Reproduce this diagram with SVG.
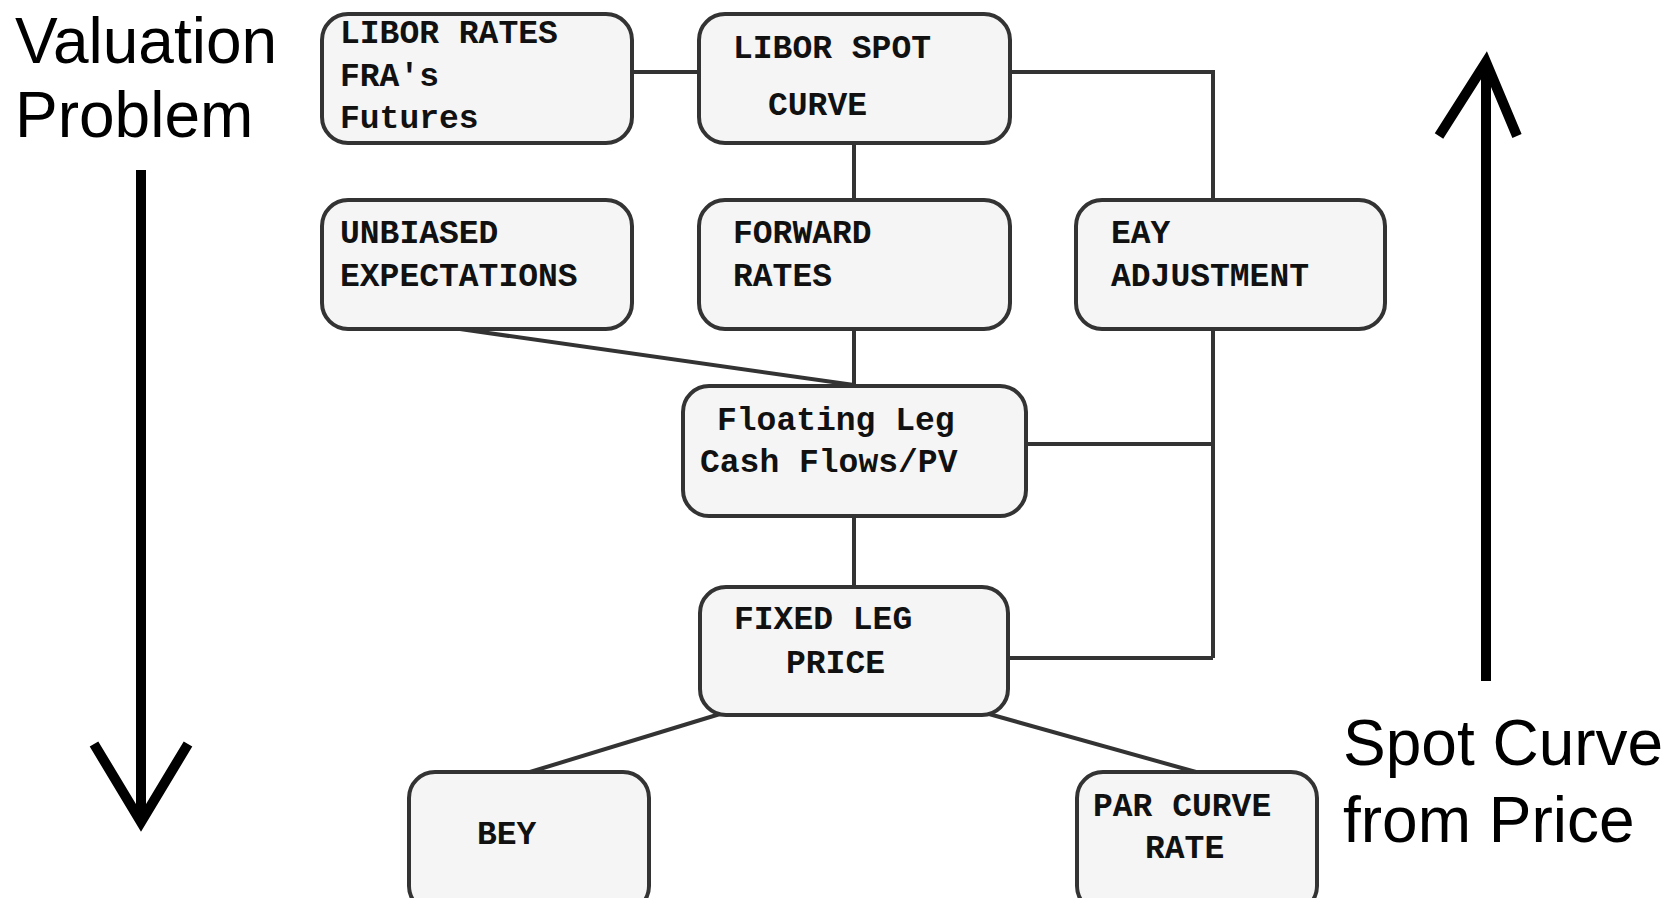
<svg xmlns="http://www.w3.org/2000/svg" width="1665" height="898" viewBox="0 0 1665 898">
<style>
.box{fill:#f5f5f5;stroke:#333;stroke-width:4}
.lbl{font-family:"Liberation Mono","Courier New",monospace;font-weight:bold;font-size:33px;fill:#111}
.big{font-family:"Liberation Sans",Arial,sans-serif;font-size:64px;fill:#000}
.con{fill:none;stroke:#333;stroke-width:4}
.arr{fill:none;stroke:#000;stroke-width:10}
</style>
<rect width="1665" height="898" fill="#fff"/>
<g id="connectors">
<line class="con" x1="632" y1="72" x2="698" y2="72"/>
<polyline class="con" points="1010,72 1213,72 1213,200"/>
<line class="con" x1="854" y1="144" x2="854" y2="200"/>
<line class="con" x1="854" y1="329" x2="854" y2="385"/>
<line class="con" x1="460" y1="329" x2="854" y2="385"/>
<line class="con" x1="1213" y1="329" x2="1213" y2="658"/>
<line class="con" x1="1026" y1="444" x2="1213" y2="444"/>
<line class="con" x1="1008" y1="658" x2="1213" y2="658"/>
<line class="con" x1="854" y1="516" x2="854" y2="587"/>
<line class="con" x1="720" y1="714" x2="530" y2="772"/>
<line class="con" x1="989" y1="714" x2="1196" y2="772"/>
</g>
<g id="n-libor-rates">
<rect class="box" x="322" y="14" width="310" height="129" rx="26"/>
<text class="lbl" x="340" y="43">LIBOR RATES</text>
<text class="lbl" x="340" y="86">FRA's</text>
<text class="lbl" x="340" y="128">Futures</text>
</g>
<g id="n-libor-spot">
<rect class="box" x="699" y="14" width="311" height="129" rx="26"/>
<text class="lbl" x="733" y="58">LIBOR SPOT</text>
<text class="lbl" x="768" y="115">CURVE</text>
</g>
<g id="n-unbiased">
<rect class="box" x="322" y="200" width="310" height="129" rx="26"/>
<text class="lbl" x="340" y="243">UNBIASED</text>
<text class="lbl" x="340" y="286">EXPECTATIONS</text>
</g>
<g id="n-forward">
<rect class="box" x="699" y="200" width="311" height="129" rx="26"/>
<text class="lbl" x="733" y="243">FORWARD</text>
<text class="lbl" x="733" y="286">RATES</text>
</g>
<g id="n-eay">
<rect class="box" x="1076" y="200" width="309" height="129" rx="26"/>
<text class="lbl" x="1111" y="243">EAY</text>
<text class="lbl" x="1111" y="286">ADJUSTMENT</text>
</g>
<g id="n-floating">
<rect class="box" x="683" y="386" width="343" height="130" rx="26"/>
<text class="lbl" x="717" y="430">Floating Leg</text>
<text class="lbl" x="700" y="472">Cash Flows/PV</text>
</g>
<g id="n-fixed">
<rect class="box" x="700" y="587" width="308" height="128" rx="26"/>
<text class="lbl" x="734" y="629">FIXED LEG</text>
<text class="lbl" x="786" y="673">PRICE</text>
</g>
<g id="n-bey">
<rect class="box" x="409" y="772" width="240" height="140" rx="26"/>
<text class="lbl" x="477" y="844">BEY</text>
</g>
<g id="n-par">
<rect class="box" x="1077" y="772" width="240" height="140" rx="26"/>
<text class="lbl" x="1093" y="816">PAR CURVE</text>
<text class="lbl" x="1145" y="858">RATE</text>
</g>
<g id="valuation">
<text class="big" x="15" y="63">Valuation</text>
<text class="big" x="15" y="137">Problem</text>
<line class="arr" x1="141" y1="170" x2="141" y2="822"/>
<polyline class="arr" points="94,744 141,822 188,744"/>
</g>
<g id="spot">
<line class="arr" x1="1486" y1="681" x2="1486" y2="62"/>
<polyline class="arr" points="1439,136 1486,62 1517,136"/>
<text class="big" x="1343" y="765">Spot Curve</text>
<text class="big" x="1343" y="842">from Price</text>
</g>
</svg>
